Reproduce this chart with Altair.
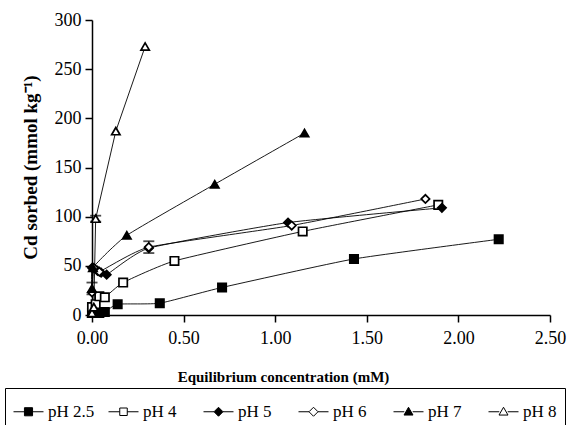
import altair as alt
import pandas as pd

series = ["pH 2.5", "pH 4", "pH 5", "pH 6", "pH 7", "pH 8"]

x_ph25 = [0.00, 0.01, 0.04, 0.07, 0.14, 0.37, 0.71, 1.43, 2.22]
y_ph25 = [2, 5, 2, 3, 11, 12, 28, 57, 77]

x_ph4 = [0.00, 0.02, 0.04, 0.07, 0.17, 0.45, 1.15, 1.89]
y_ph4 = [8, 11, 19, 18, 33, 55, 85, 112]

x_ph5 = [0.00, 0.03, 0.05, 0.08, 0.31, 1.07, 1.91]
y_ph5 = [48, 45, 43, 41, 68, 94, 109]

x_ph6 = [0.00, 0.01, 0.04, 0.31, 1.09, 1.82]
y_ph6 = [23, 48, 44, 69, 91, 118]

x_ph7 = [0.00, 0.005, 0.19, 0.67, 1.16]
y_ph7 = [27, 48, 81, 133, 185]

x_ph8 = [0.00, 0.01, 0.02, 0.13, 0.29]
y_ph8 = [2, 8, 98, 187, 273]

# error bars (series, x, low, high)
err_series = ["pH 5", "pH 7", "pH 8"]
err_x = [0.31, 0.00, 0.02]
err_lo = [63, 21, 95]
err_hi = [75, 33, 101]

shapes = ["square", "square", "diamond", "diamond", "triangle-up", "triangle-up"]
fills = ["black", "white", "black", "white", "black", "white"]
legend_paths = [
    "M-1,0H-0.27M0.27,0H1M-0.27,-0.27H0.27V0.27H-0.27Z",
    "M-1,0H-0.25M0.25,0H1M-0.25,-0.25H0.25V0.25H-0.25Z",
    "M-1,0H-0.3M0.3,0H1M0,-0.3L0.3,0L0,0.3L-0.3,0Z",
    "M-1,0H-0.3M0.3,0H1M0,-0.3L0.3,0L0,0.3L-0.3,0Z",
    "M-1,0H-0.28M0.28,0H1M0,-0.3L0.3,0.22L-0.3,0.22Z",
    "M-1,0H-0.28M0.28,0H1M0,-0.3L0.3,0.22L-0.3,0.22Z",
]

xs = [x_ph25, x_ph4, x_ph5, x_ph6, x_ph7, x_ph8]
ys = [y_ph25, y_ph4, y_ph5, y_ph6, y_ph7, y_ph8]
rows = []
for s, xv, yv in zip(series, xs, ys):
    for i, (a, b) in enumerate(zip(xv, yv)):
        rows.append({"series": s, "x": a, "y": b, "i": i})
df = pd.DataFrame(rows)
err_df = pd.DataFrame({"series": err_series, "x": err_x, "lo": err_lo, "hi": err_hi})
leg_df = pd.DataFrame({"series": series})

FONT = "Liberation Serif"

xscale = alt.Scale(domain=[0, 2.5], nice=False, zero=True)
yscale = alt.Scale(domain=[0, 300], nice=False)

xenc = alt.X("x:Q", scale=xscale,
             axis=alt.Axis(title="Equilibrium concentration (mM)", values=[0, 0.5, 1.0, 1.5, 2.0, 2.5],
                           format=".2f", titleX=191, titleY=61, titleBaseline="middle",
                           titleAlign="center", titleFontSize=15, labelFlush=False,
                           labelFont=FONT, labelPadding=7))
yenc = alt.Y("y:Q", scale=yscale,
             axis=alt.Axis(title="Cd sorbed (mmol kg⁻¹)", values=[0, 50, 100, 150, 200, 250, 300],
                           titleX=-62, titleY=147, titleBaseline="middle", titleAlign="center",
                           titleAngle=270, titleFontSize=19, labelFlush=False, labelFont=FONT))

smooth_series = series[:5]
lines = alt.Chart(df).transform_filter(
    alt.FieldOneOfPredicate(field="series", oneOf=smooth_series)
).mark_line(interpolate="cardinal", tension=0.55, color="black", strokeWidth=0.9).encode(
    x=xenc, y=yenc, detail="series:N", order="i:Q")

lines8 = alt.Chart(df).transform_filter(
    alt.FieldEqualPredicate(field="series", equal="pH 8")
).mark_line(color="black", strokeWidth=0.9).encode(
    x="x:Q", y="y:Q", detail="series:N", order="i:Q")

errs = alt.Chart(err_df).mark_rule(color="black", strokeWidth=1.2).encode(
    x="x:Q", y="lo:Q", y2="hi:Q")
caps_lo = alt.Chart(err_df).mark_tick(color="black", orient="horizontal", size=11, thickness=1.8).encode(
    x="x:Q", y="lo:Q")
caps_hi = alt.Chart(err_df).mark_tick(color="black", orient="horizontal", size=11, thickness=1.8).encode(
    x="x:Q", y="hi:Q")

points = alt.Chart(df).mark_point(stroke="black", strokeWidth=1.7, size=70, opacity=1).encode(
    x="x:Q", y="y:Q",
    shape=alt.Shape("series:N", scale=alt.Scale(domain=series, range=shapes), legend=None),
    fill=alt.Fill("series:N", scale=alt.Scale(domain=series, range=fills), legend=None),
)

legend_cfg = dict(
    title=None, orient="none", legendX=-87, legendY=368, direction="horizontal",
    strokeColor="black", padding=8, columnPadding=11, gridAlign="all",
    symbolSize=900, symbolStrokeWidth=1, symbolStrokeColor="black",
    labelFont=FONT, labelFontSize=17, labelColor="black", labelOffset=4,
    symbolOpacity=1,
)

legend_layer = alt.Chart(leg_df).mark_point(strokeWidth=1, opacity=0).encode(
    shape=alt.Shape("series:N", scale=alt.Scale(domain=series, range=legend_paths),
                    legend=alt.Legend(**legend_cfg)),
    fill=alt.Fill("series:N", scale=alt.Scale(domain=series, range=fills),
                  legend=alt.Legend(**legend_cfg)),
    stroke=alt.Stroke("series:N", scale=alt.Scale(domain=series, range=["black"] * 6),
                      legend=alt.Legend(**legend_cfg)),
)

chart = alt.layer(lines, lines8, errs, caps_lo, caps_hi, points, legend_layer).resolve_scale(
    shape="independent", fill="independent", stroke="independent"
).properties(
    width=458, height=295, autosize="none",
    padding={"left": 92, "top": 20, "right": 25, "bottom": 110},
    background="white",
).configure_view(stroke=None).configure_axis(
    grid=False, domainColor="black", domainWidth=1.5, tickColor="black", tickWidth=1.5,
    tickSize=7, labelFont=FONT, labelFontSize=18, labelColor="black", labelPadding=4,
    titleFont=FONT, titleFontSize=16, titleFontWeight="bold", titleColor="black",
)

chart.save("out.html", embed_options={"renderer": "svg", "actions": False})
